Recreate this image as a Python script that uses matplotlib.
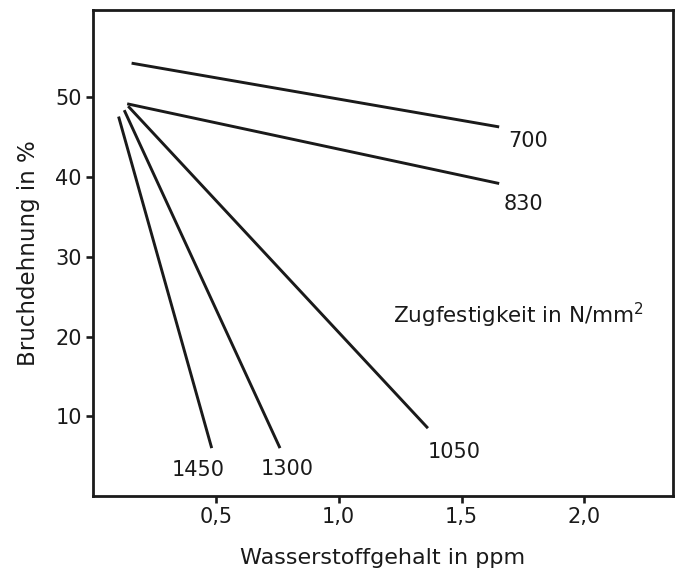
import matplotlib
matplotlib.use("Agg")
import matplotlib.pyplot as plt

# Bruchdehnung vs. Wasserstoffgehalt, one straight line per Zugfestigkeit
strengths = ["700", "830", "1050", "1300", "1450"]
h_start = [0.157, 0.139, 0.143, 0.127, 0.104]   # ppm
h_end = [1.653, 1.653, 1.363, 0.761, 0.483]     # ppm
elong_start = [54.3, 49.2, 48.9, 48.4, 47.6]    # %
elong_end = [46.3, 39.2, 8.5, 6.0, 6.0]         # %

# where each strength number sits
label_x = [1.77, 1.75, 1.47, 0.79, 0.43]
label_y = [44.5, 36.6, 5.5, 3.4, 3.2]

xticks = [0.5, 1.0, 1.5, 2.0]
xtick_labels = ["0,5", "1,0", "1,5", "2,0"]
yticks = [10, 20, 30, 40, 50]

plt.rcParams["font.family"] = ["DejaVu Sans"]

fig = plt.figure(figsize=(6.79, 5.74), dpi=100)
ax = fig.add_axes([0.137, 0.136, 0.854, 0.847])

for i in range(len(strengths)):
    ax.plot([h_start[i], h_end[i]], [elong_start[i], elong_end[i]],
            color="#1a1a1a", linewidth=2.1, solid_capstyle="butt")
    ax.text(label_x[i], label_y[i], strengths[i], fontsize=15,
            ha="center", va="center", color="#1a1a1a")

ax.text(1.73, 22.6, "Zugfestigkeit in N/mm$^2$", fontsize=15.5,
        ha="center", va="center", color="#1a1a1a")

ax.set_xlim(0, 2.36)
ax.set_ylim(0, 61)
ax.set_xticks(xticks)
ax.set_xticklabels(xtick_labels)
ax.set_yticks(yticks)
ax.tick_params(direction="out", length=5, width=1.9, labelsize=15,
               colors="#1a1a1a", pad=3)
for s in ax.spines.values():
    s.set_linewidth(2.0)
    s.set_color("#1a1a1a")

ax.set_xlabel("Wasserstoffgehalt in ppm", fontsize=16, color="#1a1a1a", labelpad=15)
ax.set_ylabel("Bruchdehnung in %", fontsize=16.5, color="#1a1a1a", labelpad=11)

fig.savefig("out.png", dpi=100)
